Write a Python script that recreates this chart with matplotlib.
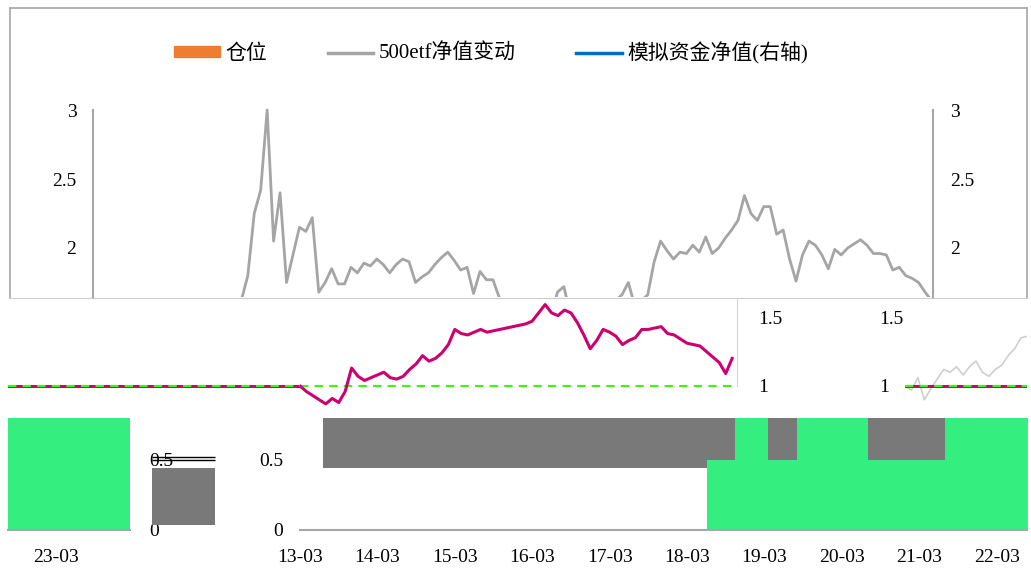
import matplotlib
matplotlib.use("Agg")
import matplotlib.pyplot as plt
from matplotlib.patches import Patch
from matplotlib.lines import Line2D
import numpy as np

plt.rcParams['font.family'] = ['Liberation Serif', 'Noto Sans CJK SC']

# months counted from 2013-03 (0) to 2024-01 (130)
months = np.arange(131)
tick_months = np.arange(0, 121, 12)
tick_labels = ['13-03', '14-03', '15-03', '16-03', '17-03', '18-03',
               '19-03', '20-03', '21-03', '22-03', '23-03']

# 500etf净值变动, read month by month
etf_nav = [1.00, 0.97, 1.06, 0.90, 0.98, 1.05, 1.12, 1.10, 1.14, 1.08, 1.14, 1.18,
           1.10, 1.07, 1.12, 1.15, 1.22, 1.27, 1.35, 1.36, 1.40, 1.42, 1.50, 1.62,
           1.80, 2.25, 2.42, 3.00, 2.05, 2.40, 1.75, 1.95, 2.15, 2.12, 2.22, 1.68,
           1.75, 1.85, 1.74, 1.74, 1.86, 1.82, 1.89, 1.87, 1.92, 1.88, 1.82, 1.88,
           1.92, 1.90, 1.75, 1.79, 1.82, 1.88, 1.93, 1.97, 1.91, 1.84, 1.86, 1.67,
           1.83, 1.77, 1.77, 1.64, 1.55, 1.50, 1.48, 1.38, 1.35, 1.25, 1.28, 1.48,
           1.68, 1.72, 1.52, 1.50, 1.52, 1.48, 1.55, 1.55, 1.58, 1.62, 1.66, 1.75,
           1.58, 1.62, 1.66, 1.90, 2.05, 1.98, 1.92, 1.97, 1.96, 2.02, 1.97, 2.08,
           1.96, 2.00, 2.07, 2.13, 2.20, 2.38, 2.25, 2.20, 2.30, 2.30, 2.10, 2.13,
           1.92, 1.76, 1.95, 2.05, 2.02, 1.95, 1.85, 1.99, 1.95, 2.00, 2.03, 2.06,
           2.02, 1.96, 1.96, 1.95, 1.84, 1.86, 1.80, 1.78, 1.75, 1.68, 1.62]

# 模拟资金净值 (visible part only)
fund_nav = [1.00, 0.96, 0.93, 0.90, 0.87, 0.91, 0.88, 0.96, 1.13, 1.07, 1.04, 1.06,
            1.08, 1.10, 1.06, 1.05, 1.07, 1.12, 1.16, 1.22, 1.18, 1.20, 1.24, 1.30,
            1.41, 1.38, 1.37, 1.39, 1.41, 1.39, 1.40, 1.41, 1.42, 1.43, 1.44, 1.45,
            1.47, 1.53, 1.59, 1.53, 1.51, 1.55, 1.53, 1.46, 1.37, 1.27, 1.33, 1.41,
            1.39, 1.36, 1.30, 1.33, 1.35, 1.41, 1.41, 1.42, 1.43, 1.38, 1.37, 1.34,
            1.31, 1.30, 1.29, 1.25, 1.21, 1.17, 1.09, 1.20]

# 仓位 steps
pos_breaks = [0, 63.1, 67.4, 72.6, 77.1, 88.1, 100.0, 131.4]
pos_level = [0, 0.5, 0.8, 0.5, 0.8, 0.5, 0.8, 0.8]
band_start, band_low, band_high = 3.6, 0.44, 0.8

GREY_LINE = '#A5A5A5'
MAGENTA = '#CC0070'
GREEN = '#34EE80'
LIME = '#33FF00'
BLOCK = '#797979'
FRAME = '#A6A6A6'

W, H = 1031, 572
PX_MONTH = 6.45
fig = plt.figure(figsize=(W / 100, H / 100), dpi=100)


def band(x0, x1, y0, y1, m0, zero_y, px_unit):
    ax = fig.add_axes([x0 / W, 1 - y1 / H, (x1 - x0) / W, (y1 - y0) / H])
    ax.set_xlim(m0, m0 + (x1 - x0) / PX_MONTH)
    ax.set_ylim((zero_y - y1) / px_unit, (zero_y - y0) / px_unit)
    ax.patch.set_alpha(0)
    for s in ax.spines.values():
        s.set_visible(False)
    ax.set_xticks([])
    ax.set_yticks([])
    ax.tick_params(length=0, labelsize=14, colors='black')
    return ax


# outer frame + legend
frame = fig.add_axes([10 / W, 1 - 298 / H, 1017 / W, 290 / H])
frame.set_xticks([])
frame.set_yticks([])
for s in frame.spines.values():
    s.set_color(FRAME)
    s.set_linewidth(1.2)
frame.spines['bottom'].set_color('#CCCCCC')
frame.spines['bottom'].set_linewidth(0.8)
handles = [Patch(color='#ED7D31'), Line2D([], [], color=GREY_LINE, lw=2.5),
           Line2D([], [], color='#0070C0', lw=2.5)]
frame.legend(handles, ['仓位', '500etf净值变动', '模拟资金净值(右轴)'],
             loc='center', bbox_to_anchor=(0.473, 0.845), ncol=3, frameon=False,
             prop={'size': 15}, handlelength=2.2, handleheight=0.4,
             handletextpad=0.25, columnspacing=2.9)

# upper band: clean part of the chart
top = band(93, 933, 105, 297, 0, 524, 138)
top.plot(months, etf_nav, color=GREY_LINE, lw=2.0)
for side in ('left', 'right'):
    top.spines[side].set_visible(True)
    top.spines[side].set_color(FRAME)
    top.spines[side].set_linewidth(1.5)
    top.spines[side].set_bounds(top.get_ylim()[0], 3)
top.set_yticks([2, 2.5, 3], ['2', '2.5', '3'])
top.tick_params(axis='y', labelright=True, pad=12)

# middle band
mid = band(300, 737, 297, 412, 0, 524, 138)
mid.axhline(1, color=LIME, lw=1.5, dashes=(4, 3), zorder=2)
mid.plot(np.arange(len(fund_nav)), fund_nav, color=MAGENTA, lw=2.2, zorder=3)
mid.spines['right'].set_visible(True)
mid.spines['right'].set_color('#E6CCDA')
mid.spines['right'].set_bounds(1.0, 1.64)
mid.set_yticks([1, 1.5], ['1', '1.5'])
mid.tick_params(axis='y', left=False, labelleft=False, labelright=True, pad=15)

mid_left = band(8, 300, 297, 412, -292 / PX_MONTH, 524, 138)
mid_left.axhline(fund_nav[0], color=MAGENTA, lw=2.2)
mid_left.axhline(1, color=LIME, lw=1.5, dashes=(4, 3))

mid_lab = band(737, 858, 297, 412, 0, 524, 138)
mid_lab.set_yticks([1, 1.5], ['1', '1.5'])
mid_lab.tick_params(axis='y', left=False, labelleft=False, labelright=True, pad=15)

mid_right = band(905, 1027, 297, 412, 0, 524, 138)
mid_right.plot(months, etf_nav, color='#CFCFCF', lw=1.2)
mid_right.axhline(fund_nav[0], color=MAGENTA, lw=2.2)
mid_right.axhline(1, color=LIME, lw=1.5, dashes=(4, 3))

# lower band: positions
for x0, x1, m0 in ((300, 1027, 0), (8, 130, 112.5)):
    ax = band(x0, x1, 412, 530, m0, 530, 140)
    xlim = ax.get_xlim()
    ax.fill_between([band_start, pos_breaks[-1]], band_low, band_high,
                    color=BLOCK, lw=0)
    ax.fill_between(pos_breaks, 0, pos_level, step='post', color=GREEN, lw=0)
    ax.spines['bottom'].set_visible(True)
    ax.spines['bottom'].set_color(FRAME)
    ax.spines['bottom'].set_linewidth(1.5)
    ax.set_xticks(tick_months, tick_labels)
    ax.set_xlim(xlim)
    ax.tick_params(axis='x', pad=14)
    ax.set_yticks([0, 0.5], ['0', '0.5'])
    if m0 == 0:
        ax.tick_params(axis='y', pad=12)
        ax.set_yticks([0.5], minor=True)
        ax.tick_params(axis='y', which='minor', direction='out', length=14,
                       width=1, color='black')
    else:
        ax.tick_params(axis='y', left=False, labelleft=False, labelright=True,
                       pad=14)

blk = band(152, 215, 412, 525, 0, 530, 140)
blk.axhspan(0, band_low, color=BLOCK, lw=0)
blk.set_yticks([0.5, 0.52], minor=True)
blk.tick_params(axis='y', which='minor', direction='in', length=45,
                width=1, color='black')

fig.savefig('out.png', dpi=100)
